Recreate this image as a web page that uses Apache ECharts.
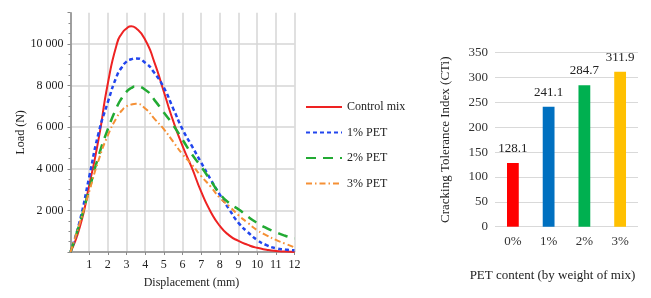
<!DOCTYPE html>
<html>
<head>
<meta charset="utf-8">
<script src="https://cdn.jsdelivr.net/npm/echarts@6/dist/echarts.min.js"></script>
<style>
  html, body { margin: 0; padding: 0; background: #fff; }
  #chart { width: 651px; height: 298px; }
</style>
</head>
<body>
<div id="chart"></div>
<script>
// Load-displacement curves (mm, N)
const displacement = [0, 0.5, 1, 1.5, 2, 2.5, 2.75, 3, 3.25, 3.5, 4, 4.5, 5, 5.5, 6, 6.5, 7, 7.5, 8, 8.5, 9, 9.5, 10, 10.5, 11, 11.5, 12];
const controlMix = [0, 1200, 3200, 5400, 8100, 10050, 10500, 10740, 10850, 10760, 10200, 9100, 7700, 6300, 5100, 4050, 2900, 1950, 1250, 800, 530, 340, 200, 110, 50, 20, 0];
const pet1 = [0, 1500, 3600, 5700, 7200, 8500, 8880, 9150, 9260, 9300, 9100, 8600, 7900, 6900, 5900, 5100, 4300, 3500, 2750, 2050, 1400, 950, 580, 330, 180, 120, 80];
const pet2 = [0, 1400, 3000, 4600, 5900, 7000, 7400, 7700, 7880, 7950, 7800, 7300, 6700, 6100, 5400, 4700, 4100, 3450, 2800, 2350, 2050, 1700, 1400, 1150, 950, 780, 650];
const pet3 = [0, 1400, 2900, 4400, 5600, 6500, 6800, 7000, 7090, 7120, 6900, 6400, 5900, 5300, 4700, 4200, 3650, 3150, 2600, 2200, 1770, 1400, 1050, 800, 580, 400, 220];
const curveNames = ['Control mix', '1% PET', '2% PET', '3% PET'];

// CTi bar chart
const petContent = ['0%', '1%', '2%', '3%'];
const ctiValues = [128.1, 241.1, 284.7, 311.9];
const barColors = ['#ff0000', '#0070c0', '#00b050', '#ffc000'];

const serif = 'Liberation Serif';

function pairs(ys) {
  return displacement.map((x, i) => [x, ys[i]]);
}

function lineSeries(name, ys, color, width, dash) {
  return {
    name: name,
    type: 'line',
    xAxisIndex: 0,
    yAxisIndex: 0,
    smooth: 0.6,
    symbol: 'none',
    data: pairs(ys),
    lineStyle: { color: color, width: width, type: dash },
    itemStyle: { color: color }
  };
}

const chart = echarts.init(document.getElementById('chart'), null, { renderer: 'canvas' });

const option = {
  animation: false,
  backgroundColor: '#fff',
  legend: {
    data: curveNames,
    orient: 'vertical',
    left: 300,
    top: 96,
    itemWidth: 36,
    itemHeight: 14,
    itemGap: 13.5,
    itemStyle: { opacity: 0 },
    textStyle: { fontFamily: serif, fontSize: 12, color: '#222' }
  },
  grid: [
    { left: 70.5, top: 12.7, right: 356.5, bottom: 46 },
    { left: 495, top: 52.7, right: 13, bottom: 71.3 }
  ],
  xAxis: [
    {
      gridIndex: 0,
      type: 'value',
      min: 0,
      max: 12,
      interval: 1,
      name: 'Displacement (mm)',
      nameLocation: 'middle',
      nameGap: 25,
      nameTextStyle: { fontFamily: serif, fontSize: 12, color: '#222', padding: [0, 0, 0, 18] },
      axisLine: { lineStyle: { color: '#8a8a8a', width: 1.5 } },
      axisTick: { show: true, length: 3, lineStyle: { color: '#8a8a8a' } },
      axisLabel: { showMinLabel: false, margin: 7, fontFamily: serif, fontSize: 12, color: '#222' },
      splitLine: { show: true, lineStyle: { color: '#d6d6d6', width: 1.5 } }
    },
    {
      gridIndex: 1,
      type: 'category',
      data: petContent,
      name: 'PET content (by weight of mix)',
      nameLocation: 'middle',
      nameGap: 42,
      nameTextStyle: { fontFamily: serif, fontSize: 13, color: '#222', padding: [0, 28, 0, 0] },
      axisLine: { show: false },
      axisTick: { show: false },
      axisLabel: { margin: 8, fontFamily: serif, fontSize: 13, color: '#333' }
    }
  ],
  yAxis: [
    {
      gridIndex: 0,
      type: 'value',
      min: 0,
      max: 11500,
      interval: 2000,
      name: 'Load (N)',
      nameLocation: 'middle',
      nameGap: 44,
      nameTextStyle: { fontFamily: serif, fontSize: 12, color: '#222' },
      axisLine: { show: true, lineStyle: { color: '#8a8a8a', width: 1.5 } },
      axisTick: { show: true, length: 3, lineStyle: { color: '#8a8a8a' } },
      minorTick: { show: true, splitNumber: 4, length: 2, lineStyle: { color: '#8a8a8a' } },
      axisLabel: {
        showMinLabel: false,
        showMaxLabel: false,
        margin: 7,
        fontFamily: serif,
        fontSize: 12,
        color: '#222',
        formatter: v => String(v).replace(/\B(?=(\d{3})+(?!\d))/g, ' ')
      },
      splitLine: { show: true, showMaxLine: false, lineStyle: { color: '#d6d6d6', width: 1.5 } }
    },
    {
      gridIndex: 1,
      type: 'value',
      min: 0,
      max: 350,
      interval: 50,
      name: 'Cracking Tolerance Index (CTi)',
      nameLocation: 'middle',
      nameGap: 43,
      nameTextStyle: { fontFamily: serif, fontSize: 13, color: '#222' },
      axisLine: { show: false },
      axisTick: { show: false },
      axisLabel: { margin: 7, fontFamily: serif, fontSize: 13, color: '#333' },
      splitLine: { show: true, lineStyle: { color: '#d9d9d9', width: 1 } }
    }
  ],
  series: [
    lineSeries(curveNames[0], controlMix, '#ee2222', 2, 'solid'),
    lineSeries(curveNames[1], pet1, '#2246ee', 2.5, [4, 3]),
    lineSeries(curveNames[2], pet2, '#22aa33', 2.5, [10, 7]),
    lineSeries(curveNames[3], pet3, '#f59035', 2, [6, 3, 1.5, 3]),
    {
      type: 'bar',
      xAxisIndex: 1,
      yAxisIndex: 1,
      barWidth: '33%',
      data: ctiValues.map((v, i) => ({ value: v, itemStyle: { color: barColors[i] } })),
      label: {
        show: true,
        position: 'top',
        distance: 8,
        fontFamily: serif,
        fontSize: 13,
        color: '#222',
        formatter: p => p.value.toFixed(1)
      }
    }
  ]
};

chart.setOption(option);
</script>
</body>
</html>
